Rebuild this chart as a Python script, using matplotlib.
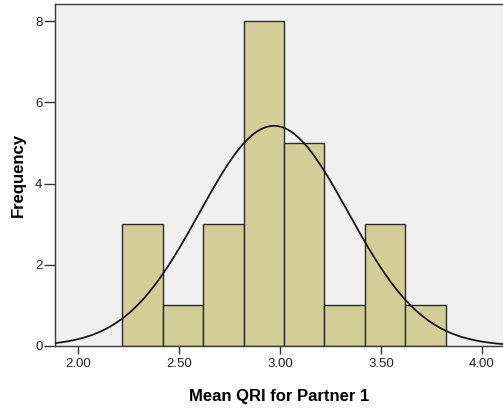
import numpy as np
import matplotlib.pyplot as plt

# Histogram of mean QRI scores (bin width 0.20) with fitted normal curve
bin_edges = [2.22, 2.42, 2.62, 2.82, 3.02, 3.22, 3.42, 3.62, 3.82]
counts = [3, 1, 3, 8, 5, 1, 3, 1]
curve_mean = 2.97
curve_sd = 0.368
x_ticks = [2.00, 2.50, 3.00, 3.50, 4.00]
y_ticks = [0, 2, 4, 6, 8]

plt.rcParams['font.family'] = ['Liberation Sans', 'DejaVu Sans']

fig = plt.figure(figsize=(5.03, 4.12), dpi=100)
ax = fig.add_axes([0.1093, 0.1602, 0.8907, 0.830])
ax.set_facecolor('#f0f0f0')

lefts = np.array(bin_edges[:-1])
widths = np.diff(bin_edges)
ax.bar(lefts, counts, width=widths, align='edge', color='#d3ce98',
       edgecolor='#2b2b2b', linewidth=1.0, zorder=2)

# normal curve scaled to counts
n = sum(counts)
bw = widths[0]
xs = np.linspace(1.80, 4.20, 400)
ys = n * bw / (curve_sd * np.sqrt(2 * np.pi)) * np.exp(-0.5 * ((xs - curve_mean) / curve_sd) ** 2)
ax.plot(xs, ys, color='#1a1a1a', linewidth=1.3, zorder=3)

ax.set_xlim(1.886, 4.104)
ax.set_ylim(0, 8.42)
ax.set_xticks(x_ticks)
ax.set_xticklabels([f'{t:.2f}' for t in x_ticks])
ax.set_yticks(y_ticks)
ax.tick_params(axis='x', direction='out', length=6, width=1, color='#333333',
               labelsize=9.5, labelcolor='#222222', pad=3)
ax.tick_params(axis='y', direction='out', length=8, width=1, color='#333333',
               labelsize=9.5, labelcolor='#222222', pad=1)

for side in ['left', 'bottom', 'top']:
    ax.spines[side].set_color('#3a3a3a')
    ax.spines[side].set_linewidth(1.0)
ax.spines['right'].set_visible(False)

ax.set_xlabel('Mean QRI for Partner 1', fontsize=12, fontweight='bold', labelpad=13)
ax.set_ylabel('Frequency', fontsize=12, fontweight='bold', labelpad=7)

fig.savefig('out.png', dpi=100, facecolor='white')
